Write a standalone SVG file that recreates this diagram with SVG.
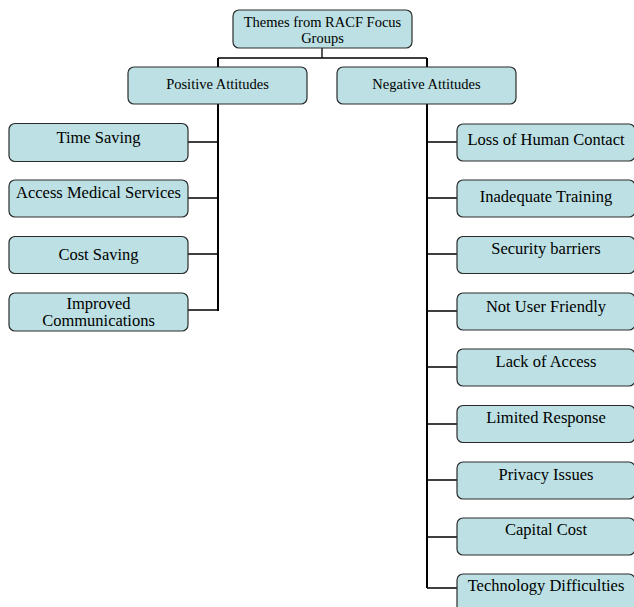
<svg xmlns="http://www.w3.org/2000/svg" width="634" height="607" viewBox="0 0 634 607">
<style>
.box{fill:#bce0e3;stroke:#2b2b2b;stroke-width:1.2}
text{font-family:"Liberation Serif","Times New Roman","DejaVu Serif",serif;fill:#000;text-anchor:middle}
.s{font-size:14.5px}
.c{font-size:16.5px}
.trunk{stroke:#000;stroke-width:2;fill:none}
.br{stroke:#000;stroke-width:1.3;fill:none}
</style>
<rect width="634" height="607" fill="#fff"/>
<g id="connectors">
<path class="br" d="M322,48V58M218,58H427"/>
<path class="trunk" d="M218,58V67M427,58V67"/>
<path class="trunk" d="M218,104V311M427,104V588"/>
<path class="br" d="M188,142H218M188,198H218M188,254H218M188,310H218"/>
<path class="br" d="M427,142H457M427,198H457M427,254H457M427,311H457M427,367H457M427,424H457M427,480H457M427,537H457M427,588H457"/>
</g>
<g id="root"><rect class="box" x="233" y="10" width="179" height="38" rx="6"/><text class="s" font-family="Liberation Serif, serif" x="322.5" y="27">Themes from RACF Focus</text><text class="s" font-family="Liberation Serif, serif" x="322.5" y="43">Groups</text></g>
<g id="positive"><rect class="box" x="128" y="67" width="179" height="37" rx="6"/><text class="s" font-family="Liberation Serif, serif" x="217.5" y="89">Positive Attitudes</text></g>
<g id="negative"><rect class="box" x="337" y="67" width="179" height="37" rx="6"/><text class="s" font-family="Liberation Serif, serif" x="426.5" y="89">Negative Attitudes</text></g>
<g id="time-saving"><rect class="box" x="9" y="123.5" width="179" height="38" rx="6"/><text class="c" font-family="Liberation Serif, serif" x="98.5" y="143">Time Saving</text></g>
<g id="access-medical"><rect class="box" x="9" y="180" width="179" height="37" rx="6"/><text class="c" font-family="Liberation Serif, serif" x="98.5" y="198">Access Medical Services</text></g>
<g id="cost-saving"><rect class="box" x="9" y="236.5" width="179" height="37" rx="6"/><text class="c" font-family="Liberation Serif, serif" x="98.5" y="260">Cost Saving</text></g>
<g id="improved-comm"><rect class="box" x="9" y="293" width="179" height="38" rx="6"/><text class="c" font-family="Liberation Serif, serif" x="98.5" y="309">Improved</text><text class="c" font-family="Liberation Serif, serif" x="98.5" y="326">Communications</text></g>
<g id="loss-contact"><rect class="box" x="457" y="124" width="178" height="37" rx="6"/><text class="c" font-family="Liberation Serif, serif" x="546" y="145">Loss of Human Contact</text></g>
<g id="inadequate-training"><rect class="box" x="457" y="180" width="178" height="37" rx="6"/><text class="c" font-family="Liberation Serif, serif" x="546" y="202">Inadequate Training</text></g>
<g id="security-barriers"><rect class="box" x="457" y="236.5" width="178" height="37" rx="6"/><text class="c" font-family="Liberation Serif, serif" x="546" y="254">Security barriers</text></g>
<g id="not-user-friendly"><rect class="box" x="457" y="293" width="178" height="37" rx="6"/><text class="c" font-family="Liberation Serif, serif" x="546" y="312">Not User Friendly</text></g>
<g id="lack-access"><rect class="box" x="457" y="349" width="178" height="37" rx="6"/><text class="c" font-family="Liberation Serif, serif" x="546" y="367">Lack of Access</text></g>
<g id="limited-response"><rect class="box" x="457" y="405.5" width="178" height="37" rx="6"/><text class="c" font-family="Liberation Serif, serif" x="546" y="423">Limited Response</text></g>
<g id="privacy-issues"><rect class="box" x="457" y="462" width="178" height="37" rx="6"/><text class="c" font-family="Liberation Serif, serif" x="546" y="480">Privacy Issues</text></g>
<g id="capital-cost"><rect class="box" x="457" y="518" width="178" height="37" rx="6"/><text class="c" font-family="Liberation Serif, serif" x="546" y="535">Capital Cost</text></g>
<g id="technology-difficulties"><rect class="box" x="457" y="574" width="178" height="40" rx="6"/><text class="c" font-family="Liberation Serif, serif" x="546" y="591">Technology Difficulties</text></g>
</svg>
